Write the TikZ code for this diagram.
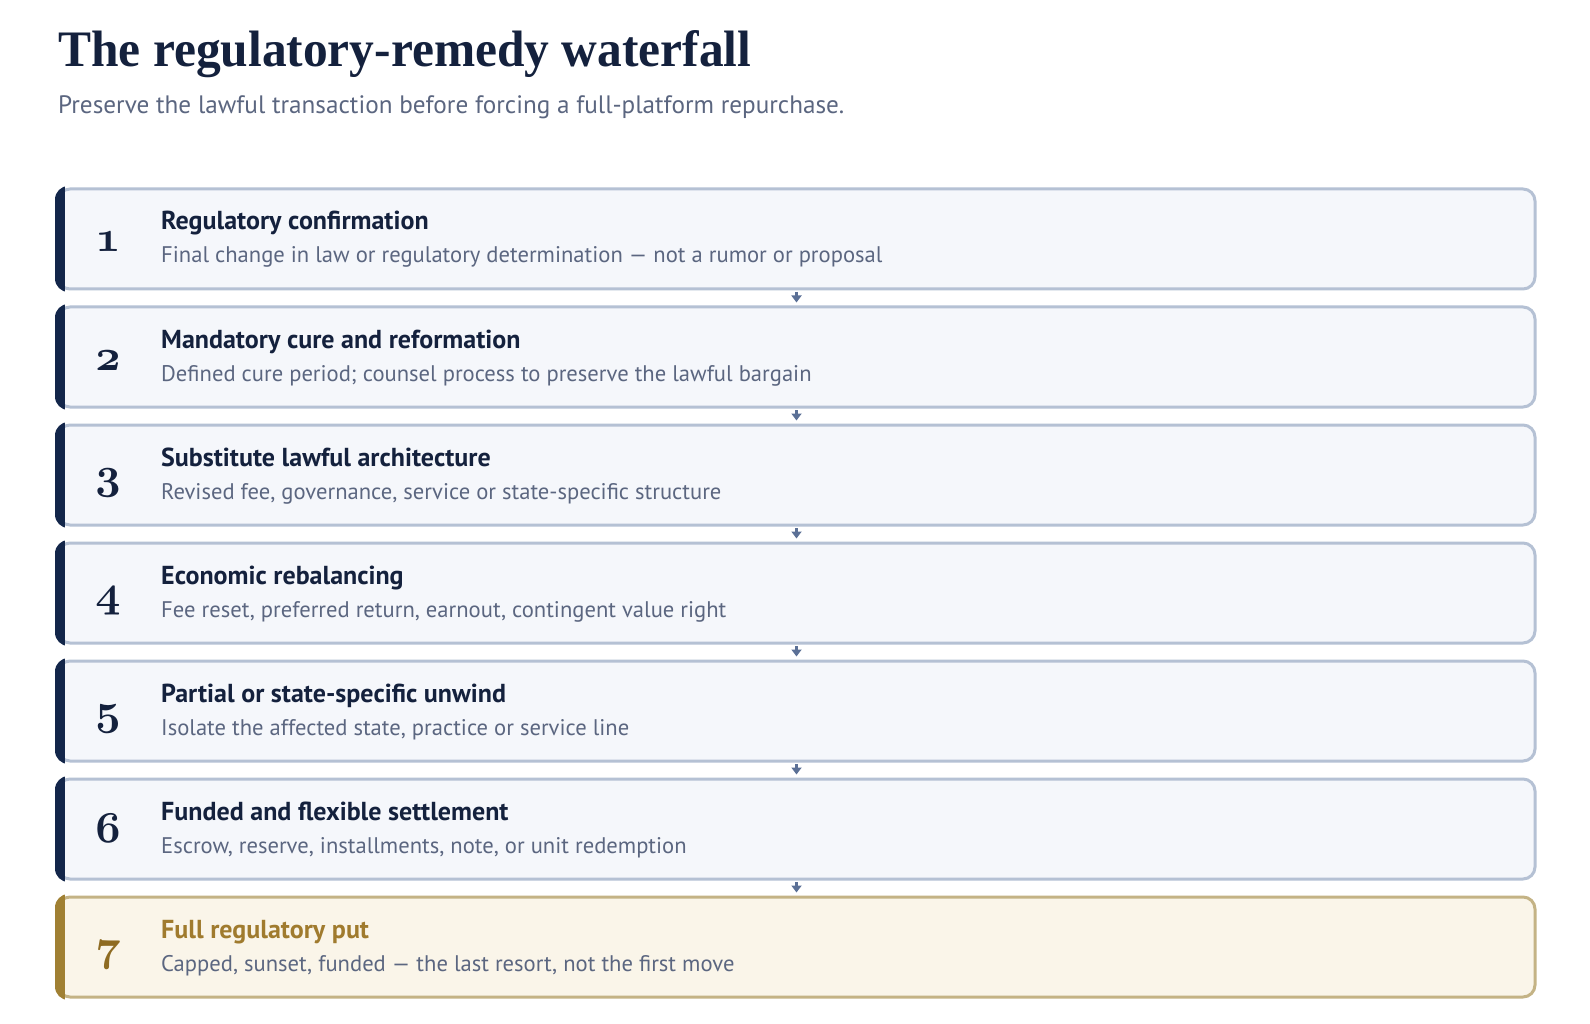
\documentclass[tikz,border=0pt]{standalone}
\usepackage{fix-cm}
\usepackage{fontspec}
\setmainfont{PT Sans}
\newfontfamily\titlefont{Liberation Serif}
\usetikzlibrary{arrows.meta}
\definecolor{titlecol}{HTML}{14213D}
\definecolor{subcol}{HTML}{5B6680}
\definecolor{nfill}{HTML}{F5F7FB}
\definecolor{nline}{HTML}{B5C1D4}
\definecolor{nbar}{HTML}{13264A}
\definecolor{nnum}{HTML}{14213D}
\definecolor{nhead}{HTML}{14213D}
\definecolor{gfill}{HTML}{FAF5E9}
\definecolor{gline}{HTML}{C4B385}
\definecolor{gbar}{HTML}{A08033}
\definecolor{gnum}{HTML}{8E6B22}
\definecolor{ghead}{HTML}{A07B2E}
\definecolor{arrcol}{HTML}{5B7096}
\newcommand\numfont{\usefont{OML}{cmm}{b}{it}\fontsize{44}{44}\selectfont}
\newcommand\wfstep[6]{%
  \node[stepbox, fill=#6fill, draw=#6line] (#1) at (56.5,#2) {};
  \begin{scope}
    \clip[rounded corners=13.5pt] ([shift={(-1.5pt,1.5pt)}]#1.north west) rectangle ([shift={(1.5pt,-1.5pt)}]#1.south east);
    \fill[#6bar] ([shift={(-3pt,3pt)}]#1.north west) rectangle ([shift={(8pt,-3pt)}]#1.south west);
  \end{scope}
  \node[numtxt, text=#6num] (#1n) at (108,#2+64.5) {#3};
  \node[headtxt, text=#6head] (#1h) at (161,#2+42.5) {#4};
  \node[desctxt] (#1d) at (161,#2+75.5) {#5};
}
\begin{document}
\begin{tikzpicture}[x=1pt,y=-1pt,
  stepbox/.style={rectangle, rounded corners=12pt, line width=3pt, minimum width=1477pt, minimum height=100pt, anchor=north west, inner sep=0pt},
  numtxt/.style={anchor=base, inner sep=0pt, font=\numfont},
  headtxt/.style={anchor=base west, inner sep=0pt, font=\bfseries\fontsize{26}{26}\selectfont},
  desctxt/.style={anchor=base west, inner sep=0pt, text=subcol, font=\fontsize{22.6}{23}\selectfont},
  flow/.style={draw=arrcol, line width=2.5pt, -{Triangle[width=10pt,length=7pt]}, shorten <=1.5pt, shorten >=3pt}]
\useasboundingbox[fill=white] (0,0) rectangle (1590,1024);
\node[anchor=base west, inner sep=0pt, text=titlecol] (title) at (58,67) {\resizebox{693pt}{36pt}{\titlefont\bfseries The regulatory-remedy waterfall}};
\node[anchor=base west, inner sep=0pt, text=subcol, font=\fontsize{25.2}{26}\selectfont] (subtitle) at (58,114) {Preserve the lawful transaction before forcing a full-platform repurchase.};
\wfstep{s1}{187.5}{1}{Regulatory confirmation}{Final change in law or regulatory determination — not a rumor or proposal}{n}
\wfstep{s2}{305.5}{2}{Mandatory cure and reformation}{Defined cure period; counsel process to preserve the lawful bargain}{n}
\wfstep{s3}{423.5}{3}{Substitute lawful architecture}{Revised fee, governance, service or state-specific structure}{n}
\wfstep{s4}{541.5}{4}{Economic rebalancing}{Fee reset, preferred return, earnout, contingent value right}{n}
\wfstep{s5}{659.5}{5}{Partial or state-specific unwind}{Isolate the affected state, practice or service line}{n}
\wfstep{s6}{777.5}{6}{Funded and flexible settlement}{Escrow, reserve, installments, note, or unit redemption}{n}
\wfstep{s7}{895.5}{7}{Full regulatory put}{Capped, sunset, funded — the last resort, not the first move}{g}
\draw[flow] (s1.south) -- (s2.north);
\draw[flow] (s2.south) -- (s3.north);
\draw[flow] (s3.south) -- (s4.north);
\draw[flow] (s4.south) -- (s5.north);
\draw[flow] (s5.south) -- (s6.north);
\draw[flow] (s6.south) -- (s7.north);
\end{tikzpicture}
\end{document}
